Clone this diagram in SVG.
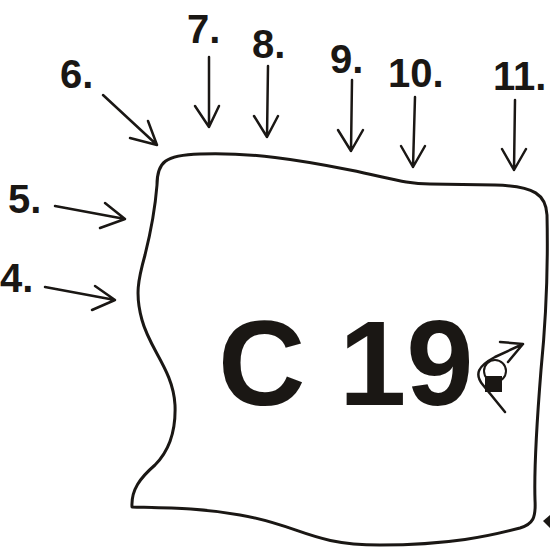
<svg xmlns="http://www.w3.org/2000/svg" width="550" height="557" viewBox="0 0 550 557">
<style>
.lbl{font-family:"Liberation Sans",Arial,sans-serif;font-weight:bold;font-size:40px;fill:#1a1714}
.big{font-family:"Liberation Sans",Arial,sans-serif;font-weight:bold;font-size:121px;fill:#1a1714}
.ln{fill:none;stroke:#1a1714;stroke-width:2.5;stroke-linecap:round;stroke-linejoin:round}
.ol{fill:none;stroke:#1a1714;stroke-width:3;stroke-linejoin:round}
</style>
<rect width="550" height="557" fill="#fff"/>
<g id="sheet">
<path class="ol" d="M157,185 C157,162 165,155 200,154 C250,152 300,160 350,170 C390,178 405,184 430,184 L495,185 C535,186 546,195 547,215 C548,260 546,320 541,370 C537,420 534,470 535,500 C536,518 533,524 520,528 C490,536 450,545 380,545 C310,545 300,525 240,515 C200,508 170,508 132,507 C131,490 140,478 155,465 C170,450 176,430 175,405 C173,370 150,350 142,320 C135,295 138,280 145,255 C150,235 155,210 157,185 Z"/>
</g>
<g id="title">
<text class="big" x="218" y="405">C 19</text>
</g>
<g id="symbol">
<circle cx="495" cy="371" r="11" fill="#fff" stroke="#1a1714" stroke-width="2"/>
<rect x="485" y="376" width="17" height="16" fill="#1a1714"/>
<path class="ln" d="M505,412 L483,385 C474,374 478,366 495,357 L523,344 M500,342 L523,344 L508,362"/>
</g>
<g id="labels">
<text class="lbl" x="0" y="292">4.</text>
<text class="lbl" x="8" y="213">5.</text>
<text class="lbl" x="60" y="88">6.</text>
<text class="lbl" x="187" y="43">7.</text>
<text class="lbl" x="252" y="58">8.</text>
<text class="lbl" x="330" y="73">9.</text>
<text class="lbl" x="388" y="87">10.</text>
<text class="lbl" x="493" y="90">11.</text>
</g>
<g id="connectors">
<path class="ln" d="M45,287 L115,300 M95,286 L115,300 L92,310"/>
<path class="ln" d="M55,206 L125,219 M105,203 L125,219 L100,228"/>
<path class="ln" d="M103,95 L157,145 M130,138 L157,145 L148,121"/>
<path class="ln" d="M209,57 L209,127 M195,106 L209,127 L219,106"/>
<path class="ln" d="M268,66 L267,137 M254,116 L267,137 L278,116"/>
<path class="ln" d="M352,80 L351,151 M338,130 L351,151 L363,130"/>
<path class="ln" d="M415,97 L413,167 M401,146 L413,167 L425,146"/>
<path class="ln" d="M515,100 L514,170 M502,149 L514,170 L526,149"/>
<polygon points="543,521 551,514 551,529" fill="#1a1714"/>
</g>
</svg>
